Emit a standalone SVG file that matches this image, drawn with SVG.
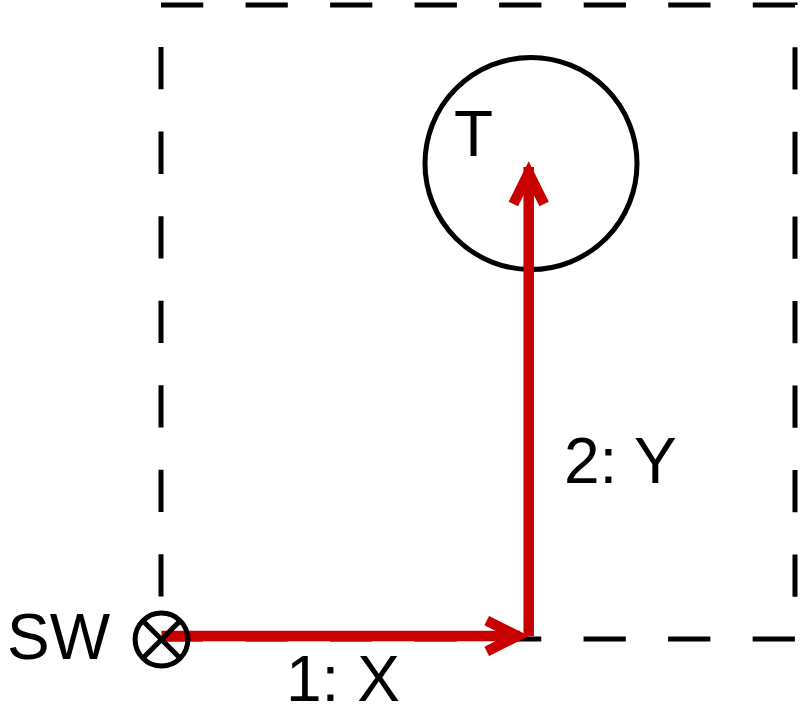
<svg xmlns="http://www.w3.org/2000/svg" width="800" height="726" viewBox="0 0 800 726">
<style>
  .lbl { font-family: "Liberation Sans", Arial, sans-serif; font-size: 64px; fill: #000; }
  .blk { fill: none; stroke: #000; stroke-width: 5; }
  .red { fill: none; stroke: #c80000; stroke-width: 10.5; stroke-linecap: butt; stroke-linejoin: miter; stroke-miterlimit: 10; }
</style>
<rect width="800" height="726" fill="#fff"/>
<g id="boundary">
  <rect x="161" y="5" width="634" height="634" class="blk" stroke-dasharray="42.27 42.27"/>
</g>
<g id="target">
  <circle cx="531" cy="163.5" r="106" class="blk" stroke-width="4.6"/>
  <text x="454" y="155.7" class="lbl">T</text>
</g>
<g id="connectors">
  <line x1="161.5" y1="636" x2="520" y2="636" class="red"/>
  <polyline points="486.7,620.6 517.5,636 486.7,651.4" class="red"/>
  <line x1="528.7" y1="636" x2="528.7" y2="167" class="red"/>
  <polyline points="513.3,204 528.7,173.1 544.1,204" class="red"/>
  <text x="286" y="700.7" class="lbl">1: X</text>
  <text x="564" y="483.3" class="lbl">2: Y</text>
</g>
<g id="sw">
  <circle cx="161.5" cy="639.5" r="26.4" class="blk"/>
  <line x1="142.8" y1="620.8" x2="180.2" y2="658.2" class="blk" stroke-width="4.5"/>
  <line x1="180.2" y1="620.8" x2="142.8" y2="658.2" class="blk" stroke-width="4.5"/>
  <text x="7" y="658.5" class="lbl">SW</text>
</g>
</svg>
